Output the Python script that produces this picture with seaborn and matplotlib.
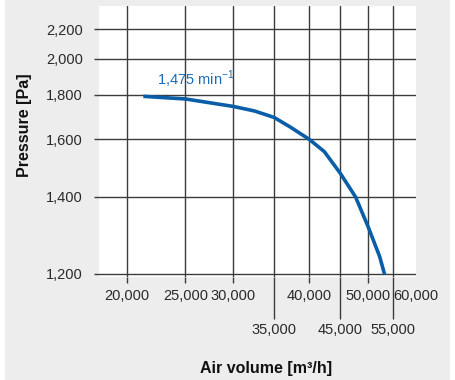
import numpy as np
import pandas as pd
import seaborn as sns
import matplotlib.pyplot as plt
from matplotlib.patches import Rectangle
from matplotlib.ticker import NullLocator

# fan curve
air_volume = [21300, 25000, 30000, 32500, 35000, 37240, 40000, 42350, 45000, 47700, 50000, 52260, 53270]
pressure = [1791, 1778, 1742, 1721, 1692, 1650, 1600, 1553, 1476, 1400, 1316, 1240, 1198]
speed_label = "1,475 min$^{\\mathregular{-1}}$"

x_ticks_top = [20000, 25000, 30000, 40000, 50000, 60000]
x_ticks_low = [35000, 45000, 55000]
y_ticks = [1200, 1400, 1600, 1800, 2000, 2200]

df = pd.DataFrame({"air": air_volume, "pressure": pressure})

sns.set_theme(style="white")
plt.rcParams["font.family"] = ["Liberation Sans", "DejaVu Sans"]
plt.rcParams["mathtext.fontset"] = "custom"
plt.rcParams["mathtext.rm"] = "Liberation Sans"

grid_col = "#3c3c3c"
txt_col = "#2a2a2a"

fig = plt.figure(figsize=(4.56, 3.80), dpi=100)
fig.patch.set_facecolor("white")
fig.patches.append(Rectangle((5 / 456, 0), 445 / 456, 1, transform=fig.transFigure,
                             facecolor="#ededed", edgecolor="none", zorder=-10))

ax = fig.add_axes([99 / 456, 1 - 277 / 380, 317 / 456, 271 / 380])
ax.set_facecolor("white")

sns.lineplot(data=df, x="air", y="pressure", ax=ax, sort=False, color="#0a5ea8",
             linewidth=2.6, solid_capstyle="butt", solid_joinstyle="round")

ax.set_xscale("log")
ax.set_yscale("function", functions=(lambda p: -1.0 / p, lambda v: -1.0 / v))
ax.set_xlim(18000, 60000)
ax.set_ylim(1193, 2390)

ax.set_xticks(x_ticks_top)
ax.set_xticklabels([f"{v:,}" for v in x_ticks_top])
ax.set_xticks(x_ticks_low, minor=True)
ax.set_xticklabels([f"{v:,}" for v in x_ticks_low], minor=True)
ax.set_yticks(y_ticks)
ax.set_yticklabels([f"{v:,}" for v in y_ticks])
ax.yaxis.set_minor_locator(NullLocator())

ax.tick_params(axis="x", which="major", bottom=True, length=4.3, width=1.0, color=grid_col,
               pad=4, labelsize=10.5, labelcolor=txt_col)
ax.tick_params(axis="x", which="minor", bottom=True, length=30, width=1.0, color=grid_col,
               pad=3, labelsize=10.5, labelcolor=txt_col)
ax.tick_params(axis="y", which="major", left=True, length=3.6, width=1.0, color=grid_col,
               pad=8, labelsize=10.5, labelcolor=txt_col)

ax.grid(True, which="both", axis="x", color=grid_col, linewidth=1.0)
ax.grid(True, which="major", axis="y", color=grid_col, linewidth=1.0)
ax.set_axisbelow(True)

last = ax.xaxis.get_major_ticks()[-1]
last.gridline.set_visible(False)
last.tick1line.set_visible(False)

for s in ax.spines.values():
    s.set_visible(False)

ax.annotate(speed_label, xy=(air_volume[0], pressure[0]), xytext=(10, 12),
            textcoords="offset points", color="#1c6db5", fontsize=10.5, va="center")

ax.set_xlabel("Air volume [m³/h]", fontsize=11.5, fontweight="bold", color="#111111")
ax.set_ylabel("Pressure [Pa]", fontsize=11.5, fontweight="bold", color="#111111")
ax.xaxis.set_label_coords(0.527, -0.31)
ax.yaxis.set_label_coords(-0.21, 0.561)

fig.savefig("out.png", dpi=100)
